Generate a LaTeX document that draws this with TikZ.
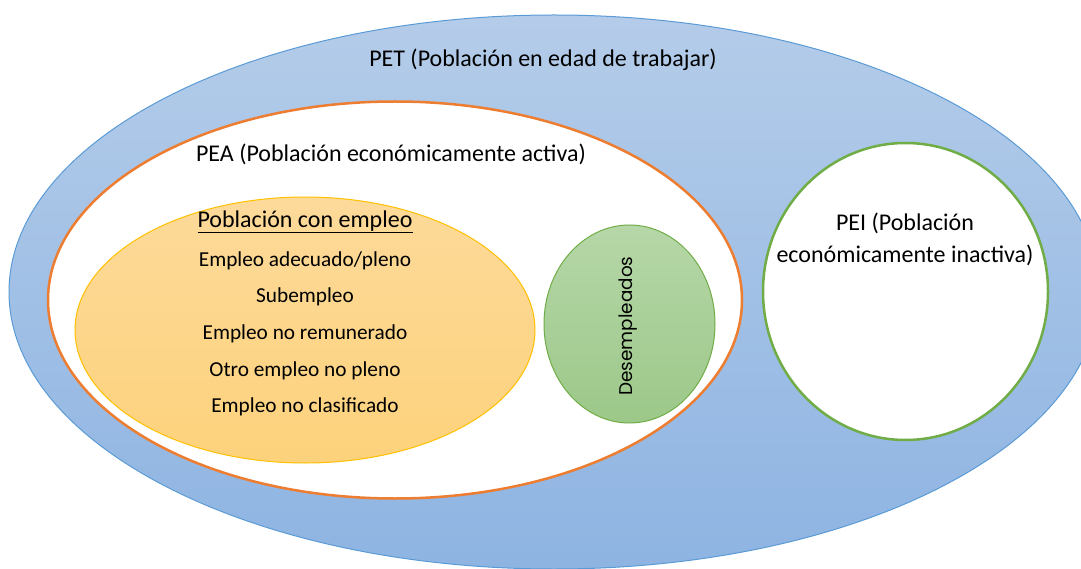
\documentclass[tikz,border=0pt]{standalone}
\usepackage{fontspec}
\setmainfont{Carlito}
\newfontfamily\desfont{Poppins}
\usetikzlibrary{shapes.geometric}
\definecolor{petA}{HTML}{B4CCE9}
\definecolor{petB}{HTML}{8EB4E2}
\definecolor{petLine}{HTML}{5B9BD5}
\definecolor{peaLine}{HTML}{ED7D31}
\definecolor{empA}{HTML}{FDDA9A}
\definecolor{empB}{HTML}{FDD27C}
\definecolor{empLine}{HTML}{FFC000}
\definecolor{desA}{HTML}{B6D7A8}
\definecolor{desB}{HTML}{9CC889}
\definecolor{greenLine}{HTML}{70AD47}
\tikzset{
  blob/.style={ellipse, inner sep=0pt},
  lbl/.style={font=\fontsize{24}{32}\selectfont, inner sep=0pt, align=center},
  item/.style={font=\fontsize{21.3}{25}\selectfont, inner sep=0pt},
}
\begin{document}
\begin{tikzpicture}[x=1pt,y=-1pt]
\useasboundingbox (0,0) rectangle (1081,569);
\node[blob, draw=petLine, line width=1pt, top color=petA, bottom color=petB,
  minimum width=1090pt, minimum height=554pt] (pet) at (554,292) {};
\node[blob, draw=peaLine, line width=2.5pt, fill=white,
  minimum width=694pt, minimum height=397pt] (pea) at (395,300) {};
\node[blob, draw=empLine, line width=1pt, top color=empA, bottom color=empB,
  minimum width=460pt, minimum height=266pt] (emp) at (305,330) {};
\node[blob, draw=greenLine, line width=1pt, top color=desA, bottom color=desB,
  minimum width=171pt, minimum height=198pt] (des) at (629.5,324) {};
\node[blob, draw=greenLine, line width=2.5pt, fill=white,
  minimum width=285pt, minimum height=297pt] (pei) at (905.5,291.5) {};
\node[lbl] (petlbl) at (543,60) {PET (Población en edad de trabajar)};
\node[lbl] (pealbl) at (391,154) {PEA (Población económicamente activa)};
\node[lbl] (emplbl) at (305,222) {\underline{Población con empleo}};
\node[item] (e1) at (305,261) {Empleo adecuado/pleno};
\node[item] (e2) at (305,297) {Subempleo};
\node[item] (e3) at (305,334) {Empleo no remunerado};
\node[item] (e4) at (305,371) {Otro empleo no pleno};
\node[item] (e5) at (305,407) {Empleo no clasificado};
\node[inner sep=0pt, rotate=90, font=\desfont\fontsize{18.4}{22}\selectfont] (deslbl) at (628,326) {Desempleados};
\node[lbl] (peilbl) at (905,239) {PEI (Población\\económicamente inactiva)};
\end{tikzpicture}
\end{document}
